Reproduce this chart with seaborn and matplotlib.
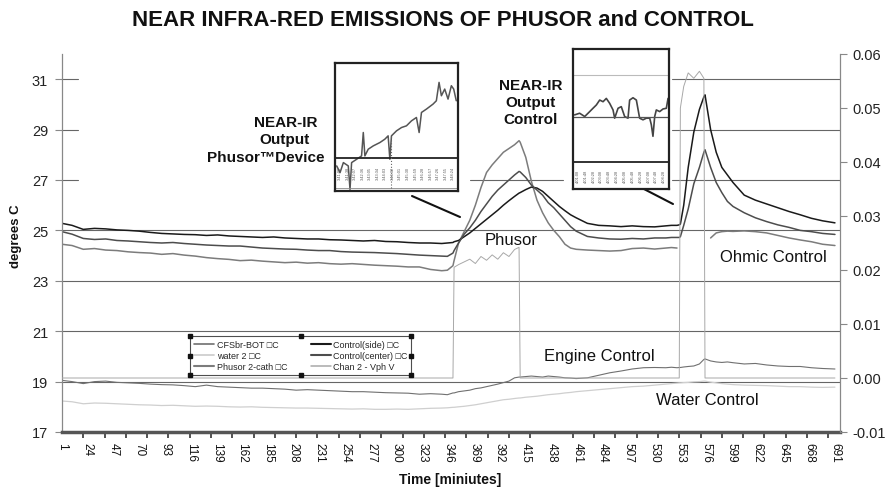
"""
NEAR INFRA-RED EMISSIONS - PHUSOR VS CONTROL
============================================
Temperature traces (left axis) and channel 2 voltage (right axis).
"""

import numpy as np
import pandas as pd
import matplotlib
matplotlib.use('Agg')
import matplotlib.pyplot as plt
from matplotlib.lines import Line2D
from matplotlib.ticker import FormatStrFormatter
import seaborn as sns

# ============================================================
# DATA
# ============================================================
minutes = [1, 10, 20, 30, 40, 50, 60, 70, 80, 90,
           100, 110, 120, 130, 140, 150, 160, 170, 180, 190,
           200, 210, 220, 230, 240, 250, 260, 270, 280, 290,
           300, 310, 320, 330, 340, 345, 350, 351, 355, 360,
           365, 370, 375, 380, 385, 390, 395, 400, 405, 409,
           410, 415, 420, 425, 430, 435, 440, 445, 450, 455,
           460, 470, 480, 490, 500, 510, 520, 530, 540, 545,
           550, 552, 553, 556, 560, 565, 570, 574, 575, 580,
           585, 590, 595, 600, 610, 620, 630, 640, 650, 660,
           670, 680, 691]

control_side = [25.28, 25.20, 25.04, 25.08, 25.06, 25.02, 25.00, 24.97, 24.92, 24.88,
                24.86, 24.84, 24.83, 24.80, 24.82, 24.78, 24.76, 24.74, 24.72, 24.74,
                24.70, 24.68, 24.66, 24.66, 24.63, 24.62, 24.60, 24.58, 24.60, 24.56,
                24.55, 24.52, 24.50, 24.50, 24.48, 24.50, 24.52, 24.55, 24.60, 24.75,
                24.90, 25.08, 25.26, 25.44, 25.62, 25.80, 26.00, 26.18, 26.35, 26.48,
                26.50, 26.62, 26.72, 26.68, 26.55, 26.35, 26.15, 25.95, 25.78, 25.62,
                25.50, 25.28, 25.20, 25.18, 25.15, 25.18, 25.15, 25.14, 25.18, 25.20,
                25.20, 25.22, 25.25, 26.00, 27.50, 28.90, 29.80, 30.30, 30.38, 29.00,
                28.10, 27.50, 27.20, 26.90, 26.40, 26.20, 26.05, 25.90, 25.75, 25.62,
                25.48, 25.38, 25.30]

control_center = [24.95, 24.85, 24.68, 24.64, 24.66, 24.60, 24.58, 24.55, 24.52, 24.50,
                  24.52, 24.48, 24.45, 24.42, 24.40, 24.38, 24.38, 24.34, 24.30, 24.28,
                  24.26, 24.25, 24.22, 24.20, 24.20, 24.16, 24.14, 24.13, 24.12, 24.10,
                  24.08, 24.05, 24.02, 24.00, 23.98, 23.97, 24.10, 24.20, 24.50, 24.85,
                  25.10, 25.40, 25.75, 26.05, 26.35, 26.60, 26.80, 27.00, 27.20, 27.34,
                  27.32, 27.10, 26.80, 26.60, 26.40, 26.10, 25.90, 25.65, 25.40, 25.15,
                  24.97, 24.76, 24.70, 24.66, 24.65, 24.68, 24.66, 24.70, 24.70, 24.72,
                  24.72, 24.72, 24.75, 25.20, 25.85, 26.85, 27.50, 28.10, 28.20, 27.50,
                  26.90, 26.50, 26.15, 25.95, 25.70, 25.50, 25.35, 25.22, 25.12, 25.00,
                  24.95, 24.88, 24.84]

phusor_cath = [24.45, 24.40, 24.25, 24.28, 24.22, 24.20, 24.15, 24.12, 24.10, 24.05,
               24.08, 24.02, 23.98, 23.92, 23.88, 23.85, 23.80, 23.82, 23.78, 23.75,
               23.72, 23.74, 23.70, 23.72, 23.68, 23.66, 23.68, 23.65, 23.62, 23.60,
               23.58, 23.55, 23.55, 23.45, 23.40, 23.42, 23.60, 23.80, 24.50, 24.95,
               25.40, 26.00, 26.70, 27.30, 27.60, 27.85, 28.10, 28.25, 28.40, 28.56,
               28.50, 27.90, 26.95, 26.20, 25.70, 25.30, 25.00, 24.75, 24.45, 24.30,
               24.25, 24.22, 24.20, 24.18, 24.20, 24.28, 24.30, 24.26, 24.30, 24.32,
               24.30, np.nan, np.nan, np.nan, np.nan, np.nan, np.nan, np.nan, np.nan, 24.70,
               24.90, 24.95, 24.97, 24.96, 24.98, 24.95, 24.90, 24.80, 24.70, 24.62,
               24.55, 24.45, 24.40]

cfsbr_bot = [19.05, 19.00, 18.92, 19.00, 19.02, 18.97, 18.95, 18.93, 18.90, 18.88,
             18.87, 18.84, 18.80, 18.86, 18.80, 18.78, 18.76, 18.74, 18.74, 18.72,
             18.70, 18.66, 18.68, 18.66, 18.64, 18.62, 18.60, 18.60, 18.58, 18.56,
             18.55, 18.54, 18.50, 18.52, 18.50, 18.48, 18.55, 18.55, 18.60, 18.63,
             18.66, 18.72, 18.75, 18.80, 18.85, 18.90, 18.96, 19.02, 19.15, 19.18,
             19.18, 19.20, 19.22, 19.20, 19.18, 19.22, 19.20, 19.18, 19.15, 19.14,
             19.12, 19.15, 19.25, 19.35, 19.42, 19.50, 19.55, 19.56, 19.55, 19.57,
             19.55, 19.56, 19.56, 19.58, 19.60, 19.62, 19.70, 19.88, 19.90, 19.82,
             19.78, 19.76, 19.78, 19.75, 19.70, 19.72, 19.66, 19.62, 19.60, 19.60,
             19.55, 19.52, 19.50]

water_2 = [18.23, 18.20, 18.12, 18.15, 18.14, 18.12, 18.10, 18.08, 18.07, 18.05,
           18.06, 18.04, 18.02, 18.03, 18.02, 18.00, 17.99, 18.00, 17.98, 17.97,
           17.96, 17.95, 17.95, 17.94, 17.93, 17.92, 17.91, 17.92, 17.90, 17.90,
           17.91, 17.90, 17.92, 17.94, 17.95, 17.96, 17.98, 17.98, 18.00, 18.02,
           18.05, 18.08, 18.12, 18.16, 18.20, 18.24, 18.28, 18.30, 18.33, 18.35,
           18.35, 18.38, 18.40, 18.42, 18.45, 18.48, 18.50, 18.52, 18.55, 18.57,
           18.60, 18.64, 18.68, 18.72, 18.76, 18.80, 18.82, 18.86, 18.90, 18.92,
           18.94, 18.95, 18.95, 18.96, 18.97, 18.99, 19.00, 19.02, 19.02, 18.98,
           18.95, 18.92, 18.90, 18.88, 18.86, 18.85, 18.84, 18.82, 18.80, 18.80,
           18.78, 18.77, 18.78]

chan2_vph = [0, 0, 0, 0, 0, 0, 0, 0, 0, 0,
             0, 0, 0, 0, 0, 0, 0, 0, 0, 0,
             0, 0, 0, 0, 0, 0, 0, 0, 0, 0,
             0, 0, 0, 0, 0, 0, 0, 0.0205, 0.0210, 0.0215,
             0.0220, 0.0212, 0.0225, 0.0218, 0.0228, 0.0220, 0.0232, 0.0225, 0.0238, 0.0242,
             0, 0, 0, 0, 0, 0, 0, 0, 0, 0,
             0, 0, 0, 0, 0, 0, 0, 0, 0, 0,
             0, 0, 0.0500, 0.0540, 0.0565, 0.0555, 0.0568, 0.0555, 0, 0,
             0, 0, 0, 0, 0, 0, 0, 0, 0, 0,
             0, 0, 0]

series_labels = ['CFSbr-BOT □C', 'water 2 □C', 'Phusor 2-cath □C',
                 'Control(side) □C', 'Control(center) □C', 'Chan 2 - Vph V']

x_tick_minutes = list(range(1, 692, 23))
left_ticks = [17, 19, 21, 23, 25, 27, 29, 31]
right_ticks = [-0.01, 0.00, 0.01, 0.02, 0.03, 0.04, 0.05, 0.06]

# inset screenshots: near-IR output traces (arbitrary units)
ir_phusor_t = [1.4, 4.1, 6.8, 10.8, 12.2, 13.5, 17.6, 21.6, 23.0, 24.3, 27.0, 31.1,
               36.5, 40.5, 43.2, 44.6, 45.9, 50.0, 54.1, 58.1, 62.2, 66.2, 68.4,
               70.3, 74.3, 79.7, 82.4, 84.6, 86.5, 89.2, 91.9, 94.6, 96.5, 98.6]
ir_phusor_v = [75, 55, 85, 75, 5, 85, 95, 105, 175, 105, 125, 135,
               145, 155, 165, 95, 165, 180, 190, 195, 210, 220, 175,
               235, 245, 260, 270, 325, 285, 305, 275, 315, 305, 270]
ir_control_t = [1.7, 6.9, 12.2, 17.4, 20.8, 24.3, 27.8, 31.3, 34.7, 38.2, 41.7,
                43.4, 46.9, 50.3, 53.8, 57.3, 59.0, 62.5, 66.0, 69.4, 72.9,
                76.4, 79.9, 81.6, 83.3, 85.1, 86.8, 90.3, 93.8, 97.2, 99.0]
ir_control_v = [225, 230, 220, 235, 245, 255, 270, 265, 275, 260, 240,
                215, 245, 250, 220, 215, 270, 277, 270, 215, 210,
                215, 215, 195, 160, 220, 240, 235, 243, 245, 275]
ir_phusor_clock = ['3:41:09', '3:41:38', '3:42:07', '3:42:36', '3:43:05', '3:43:34',
                   '3:44:03', '3:44:32', '3:45:01', '3:45:30', '3:45:59', '3:46:28',
                   '3:46:57', '3:47:26', '3:47:55', '3:48:24']
ir_control_clock = ['4:01:08', '4:01:48', '4:02:28', '4:03:08', '4:03:48', '4:04:28',
                    '4:05:08', '4:05:48', '4:06:28', '4:07:08', '4:07:48', '4:08:28']

df = pd.DataFrame({'minute': minutes,
                   series_labels[0]: cfsbr_bot,
                   series_labels[1]: water_2,
                   series_labels[2]: phusor_cath,
                   series_labels[3]: control_side,
                   series_labels[4]: control_center,
                   series_labels[5]: chan2_vph})

# ============================================================
# FIGURE SETUP
# ============================================================
sns.set_style("white")
plt.rcParams['font.family'] = ['Liberation Sans', 'DejaVu Sans']

W, H = 885, 489
fig = plt.figure(figsize=(W / 100, H / 100), dpi=100)


def fx(px):
    return px / W


def fy(py):
    return 1 - py / H


ax = fig.add_axes([fx(62), fy(433), fx(840) - fx(62), fy(55) - fy(433)])
ax2 = ax.twinx()

colors = {series_labels[0]: '#707070', series_labels[1]: '#cfcfcf',
          series_labels[2]: '#7c7c7c', series_labels[3]: '#1a1a1a',
          series_labels[4]: '#4d4d4d', series_labels[5]: '#a8a8a8'}
widths = {series_labels[0]: 0.8, series_labels[1]: 0.9, series_labels[2]: 1.1,
          series_labels[3]: 1.1, series_labels[4]: 1.1, series_labels[5]: 0.7}

# gridlines (the upper ones are partly hidden behind the pasted boxes)
grid_c = '#666666'
for level in [19, 21, 23, 25]:
    ax.axhline(level, color=grid_c, lw=0.8, zorder=0)
hidden = {31: [(0, 0.02), (0.784, 1)],
          29: [(0, 0.02), (0.784, 1)],
          27: [(0, 0.02), (0.524, 0.644), (0.784, 1)]}
for level, spans in hidden.items():
    for a, b in spans:
        ax.axhline(level, xmin=a, xmax=b, color=grid_c, lw=0.8, zorder=0)

# ============================================================
# TEMPERATURE TRACES (left axis)
# ============================================================
for name in series_labels[:5]:
    if name == series_labels[2]:
        # logger dropped out during the second pulse
        part1 = df[df['minute'] < 552]
        part2 = df[df['minute'] > 575]
        for part in [part1, part2]:
            sns.lineplot(data=part, x='minute', y=name, ax=ax, color=colors[name],
                         lw=widths[name], legend=False)
    else:
        sns.lineplot(data=df, x='minute', y=name, ax=ax, color=colors[name],
                     lw=widths[name], legend=False)

# voltage on the right axis
sns.lineplot(data=df, x='minute', y=series_labels[5], ax=ax2,
             color=colors[series_labels[5]], lw=widths[series_labels[5]], legend=False)

# ============================================================
# AXES
# ============================================================
ax.set_xlim(1, 695.5)
ax.set_ylim(17, 32)
ax2.set_ylim(-0.01, 0.06)
ax.set_xlabel('')
ax.set_ylabel('')
ax2.set_ylabel('')

ax.set_yticks(left_ticks)
ax.set_yticklabels([str(t) for t in left_ticks])
ax2.set_yticks(right_ticks)
ax2.yaxis.set_major_formatter(FormatStrFormatter('%.2f'))

ax.set_xticks(x_tick_minutes)
ax.set_xticklabels([str(t) for t in x_tick_minutes], rotation=-90)
ax.set_xticks(np.arange(1, 696, 19), minor=True)

ax.tick_params(axis='x', which='major', bottom=True, length=0, pad=7,
               labelsize=8.5, labelcolor='#111')
ax.tick_params(axis='x', which='minor', bottom=True, length=4, width=1.2, color='#333')
ax.tick_params(axis='y', left=True, length=5, width=0.8, color='#888',
               labelsize=10.5, labelcolor='#222', pad=5)
ax2.tick_params(axis='y', right=True, length=5, width=0.8, color='#888',
                labelsize=10.5, labelcolor='#222', pad=4)

for a in [ax, ax2]:
    a.spines['top'].set_visible(False)
ax.spines['right'].set_visible(False)
ax2.spines['left'].set_visible(False)
ax2.spines['bottom'].set_visible(False)
ax.spines['left'].set_color('#888888')
ax.spines['left'].set_linewidth(0.9)
ax.spines['bottom'].set_color('#555555')
ax.spines['bottom'].set_linewidth(2.5)
ax2.spines['right'].set_color('#888888')
ax2.spines['right'].set_linewidth(0.9)

# titles and axis names
fig.text(fx(443), fy(20), 'NEAR INFRA-RED EMISSIONS OF PHUSOR and CONTROL',
         ha='center', va='center', fontsize=16, fontweight='bold', color='#111')
fig.text(fx(16), fy(236), 'degrees C', rotation=90, ha='center', va='center',
         fontsize=9.5, fontweight='bold', color='#111')
fig.text(fx(450), fy(480), 'Time [miniutes]', ha='center', va='center',
         fontsize=10, fontweight='bold', color='#111')

# ============================================================
# LEGEND
# ============================================================
handles = [Line2D([], [], color=colors[n], lw=widths[n] + 0.4) for n in series_labels]
leg = ax2.legend(handles, series_labels, ncol=2, loc='center',
                 bbox_to_anchor=(0.307, 0.202), fontsize=6.5, frameon=True,
                 fancybox=False, edgecolor='#222', handlelength=2.2,
                 handletextpad=0.3, columnspacing=2.6, labelspacing=0.25,
                 borderpad=0.4)
leg.get_frame().set_linewidth(0.8)

# ============================================================
# SERIES LABELS AND CALLOUTS
# ============================================================
for txt, px, py in [('Phusor', 511, 241), ('Ohmic Control', 773, 258),
                    ('Engine Control', 599, 356), ('Water Control', 707, 401)]:
    fig.text(fx(px), fy(py), txt, ha='center', va='center', fontsize=12, color='#111')

for txt, px, py in [('NEAR-IR', 286, 123), ('Output', 285, 140), ('Phusor™Device', 266, 158),
                    ('NEAR-IR', 531, 86), ('Output', 531, 103), ('Control', 531, 120)]:
    fig.text(fx(px), fy(py), txt, ha='center', va='center', fontsize=11,
             fontweight='bold', color='#111')

for (x0, y0), (x1, y1) in [((412, 197), (460, 218)), ((642, 189), (673, 205))]:
    fig.add_artist(Line2D([fx(x0), fx(x1)], [fy(y0), fy(y1)],
                          transform=fig.transFigure, color='#111', lw=1.5))

# ============================================================
# INSET SCREENSHOTS
# ============================================================
ins1 = fig.add_axes([fx(335), fy(192), fx(458) - fx(335), fy(64) - fy(192)], zorder=5)
ins2 = fig.add_axes([fx(573), fy(190), fx(669) - fx(573), fy(50) - fy(190)], zorder=5)

sns.lineplot(x=ir_phusor_t, y=ir_phusor_v, ax=ins1, color='#555555', lw=1.1)
ins1.set_xlim(0, 100)
ins1.set_ylim(0, 383)
ins1.axhline(100, color='#222', lw=1.3)
ins1.axhline(10, color='#888', lw=0.6)
ins1.axvline(ir_phusor_t[16], ymin=10 / 383, ymax=ir_phusor_v[16] / 383,
             color='#666', lw=0.8, ls=':')
for xp, lab in zip(np.linspace(4, 96, len(ir_phusor_clock)), ir_phusor_clock):
    ins1.text(xp, 55, lab, rotation=90, ha='center', va='center',
              fontsize=2.8, color='#555')

sns.lineplot(x=ir_control_t, y=ir_control_v, ax=ins2, color='#444444', lw=1.2)
ins2.set_xlim(0, 100)
ins2.set_ylim(0, 425)
ins2.axhline(83, color='#222', lw=1.3)
ins2.axhline(345, color='#bbbbbb', lw=0.8)
ins2.axhline(218, color='#555555', lw=0.9)
for xp, lab in zip(np.linspace(5, 95, len(ir_control_clock)), ir_control_clock):
    ins2.text(xp, 42, lab, rotation=90, ha='center', va='center',
              fontsize=2.8, color='#555')

for ins in [ins1, ins2]:
    ins.set_facecolor('white')
    ins.set_xticks([])
    ins.set_yticks([])
    ins.set_xlabel('')
    ins.set_ylabel('')
    for sp in ins.spines.values():
        sp.set_visible(True)
        sp.set_color('#222')
        sp.set_linewidth(1.6)

# selection handles around the legend box
fig.canvas.draw()
bb = leg.get_frame().get_window_extent(fig.canvas.get_renderer())
bb = bb.transformed(fig.transFigure.inverted())
hx = [bb.x0, (bb.x0 + bb.x1) / 2, bb.x1]
hy = [bb.y0, (bb.y0 + bb.y1) / 2, bb.y1]
for i, xh in enumerate(hx):
    for j, yh in enumerate(hy):
        if i == 1 and j == 1:
            continue
        fig.add_artist(Line2D([xh], [yh], transform=fig.transFigure, marker='s',
                              markersize=3, color='#111', lw=0))

plt.savefig('out.png', dpi=100)
print("✓ saved out.png")
